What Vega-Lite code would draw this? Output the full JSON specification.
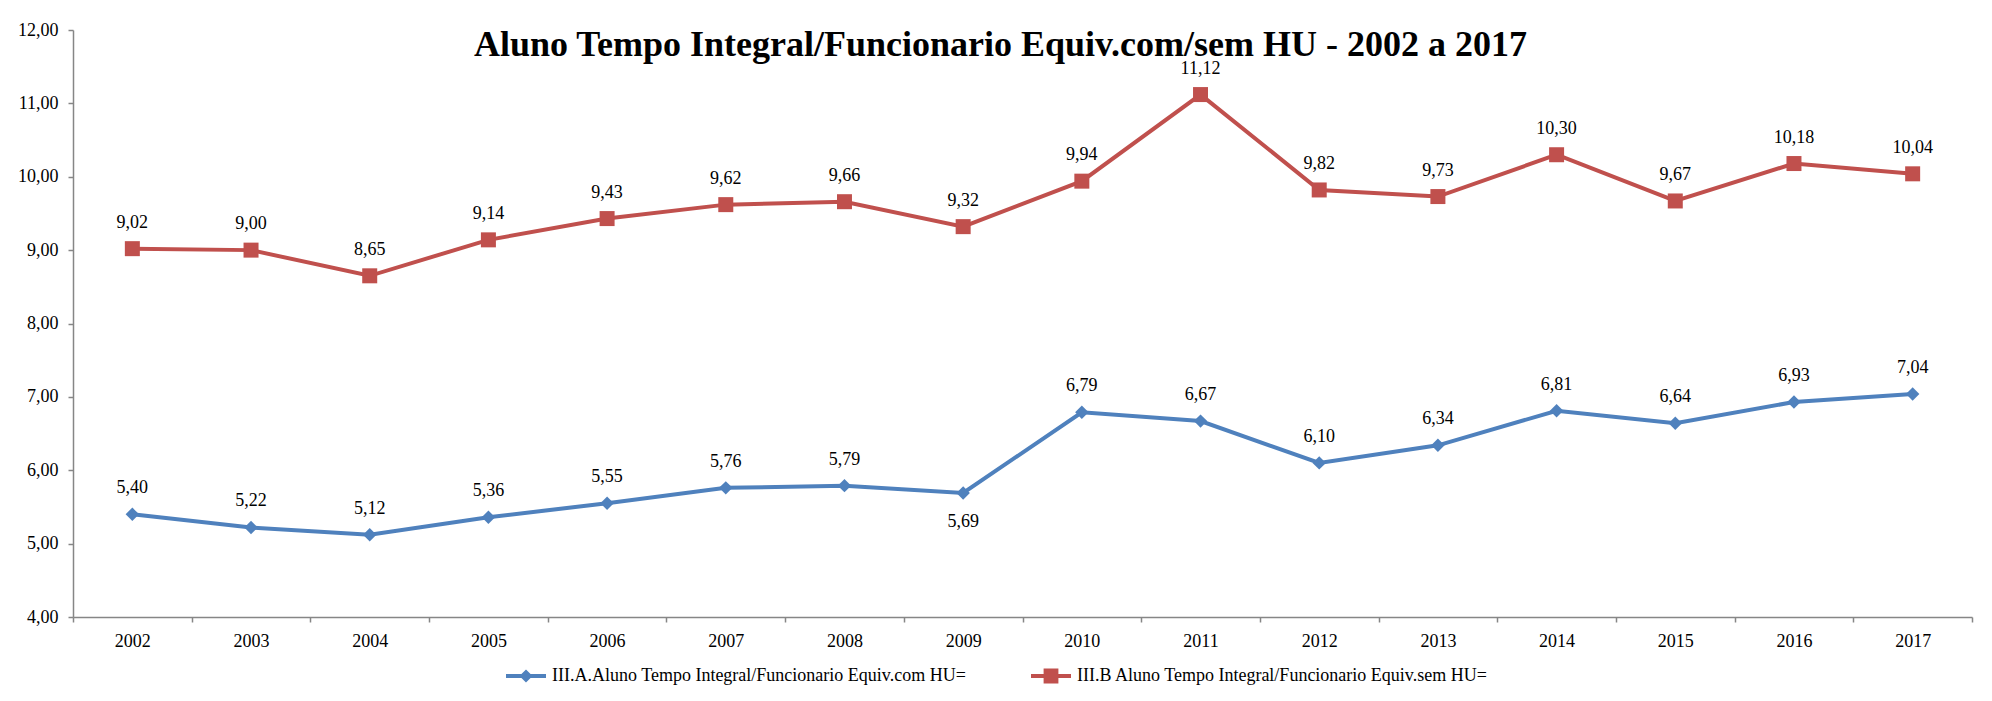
{
  "$schema": "https://vega.github.io/schema/vega-lite/v6.json",
  "width": 1899,
  "height": 587,
  "autosize": {"type": "none"},
  "padding": {"left": 73, "top": 30, "right": 20, "bottom": 84},
  "background": "white",
  "config": {
    "locale": {"number": {"decimal": ",", "thousands": ".", "grouping": [3], "currency": ["R$", ""]}},
    "view": {"stroke": null},
    "font": "Liberation Serif",
    "axis": {
      "domainColor": "#868686",
      "domainWidth": 1.5,
      "tickColor": "#868686",
      "tickWidth": 1.5,
      "tickSize": 5,
      "grid": false,
      "labelFont": "Liberation Serif",
      "labelFontSize": 18,
      "labelColor": "black",
      "title": null
    }
  },
  "title": {
    "text": "Aluno Tempo Integral/Funcionario Equiv.com/sem HU - 2002 a 2017",
    "font": "Liberation Serif",
    "fontSize": 36,
    "fontWeight": "bold",
    "color": "black",
    "anchor": "middle",
    "orient": "top",
    "baseline": "alphabetic",
    "offset": -35,
    "dy": 36,
    "dx": -22
  },
  "data": {
    "values": [
      {"ano": "2002", "A": 5.40, "B": 9.02},
      {"ano": "2003", "A": 5.22, "B": 9.00},
      {"ano": "2004", "A": 5.12, "B": 8.65},
      {"ano": "2005", "A": 5.36, "B": 9.14},
      {"ano": "2006", "A": 5.55, "B": 9.43},
      {"ano": "2007", "A": 5.76, "B": 9.62},
      {"ano": "2008", "A": 5.79, "B": 9.66},
      {"ano": "2009", "A": 5.69, "B": 9.32},
      {"ano": "2010", "A": 6.79, "B": 9.94},
      {"ano": "2011", "A": 6.67, "B": 11.12},
      {"ano": "2012", "A": 6.10, "B": 9.82},
      {"ano": "2013", "A": 6.34, "B": 9.73},
      {"ano": "2014", "A": 6.81, "B": 10.30},
      {"ano": "2015", "A": 6.64, "B": 9.67},
      {"ano": "2016", "A": 6.93, "B": 10.18},
      {"ano": "2017", "A": 7.04, "B": 10.04}
    ]
  },
  "transform": [{"fold": ["A", "B"], "as": ["serie", "valor"]}],
  "encoding": {
    "x": {
      "field": "ano",
      "type": "ordinal",
      "bandPosition": 0.5,
      "scale": {"type": "band", "paddingInner": 0, "paddingOuter": 0},
      "axis": {"tickBand": "extent", "labelAngle": 0, "labelPadding": 10}
    },
    "y": {
      "field": "valor",
      "type": "quantitative",
      "scale": {"domain": [4, 12], "nice": false, "zero": false},
      "axis": {"values": [4, 5, 6, 7, 8, 9, 10, 11, 12], "format": ".2f", "labelPadding": 10}
    }
  },
  "layer": [
    {
      "mark": {"type": "line", "strokeWidth": 4},
      "encoding": {
        "color": {
          "field": "serie",
          "type": "nominal",
          "scale": {"domain": ["A", "B"], "range": ["#4F81BD", "#C0504D"]},
          "legend": {
            "orient": "none",
            "direction": "horizontal",
            "legendX": 433,
            "legendY": 626,
            "title": null,
            "symbolSize": 1600,
            "labelFont": "Liberation Serif",
            "labelFontSize": 18,
            "labelColor": "black",
            "labelOffset": 6,
            "columnPadding": 64,
            "labelLimit": 600,
            "labelExpr": "datum.value == 'A' ? 'III.A.Aluno Tempo Integral/Funcionario Equiv.com HU=' : 'III.B Aluno Tempo Integral/Funcionario Equiv.sem HU='",
            "encode": {
              "symbols": {
                "update": {
                  "shape": {"signal": "datum.value == 'A' ? 'M-1,-0.1H1V0.1H-1Z M0,-0.33L0.33,0L0,0.33L-0.33,0Z' : 'M-1,-0.1H1V0.1H-1Z M-0.37,-0.37H0.37V0.37H-0.37Z'"},
                  "fill": {"signal": "datum.value == 'A' ? '#4F81BD' : '#C0504D'"},
                  "stroke": {"value": "transparent"},
                  "strokeWidth": {"value": 0},
                  "size": {"value": 1600},
                  "opacity": {"value": 1}
                }
              }
            }
          }
        }
      }
    },
    {
      "transform": [{"filter": "datum.serie == 'A'"}],
      "mark": {"type": "point", "shape": "diamond", "filled": true, "opacity": 1, "size": 180, "color": "#4F81BD"}
    },
    {
      "transform": [{"filter": "datum.serie == 'B'"}],
      "mark": {"type": "point", "shape": "square", "filled": true, "opacity": 1, "size": 225, "color": "#C0504D"}
    },
    {
      "transform": [{"filter": "!(datum.serie == 'A' && datum.ano == '2009')"}],
      "mark": {"type": "text", "dy": -26, "fontSize": 18, "font": "Liberation Serif", "color": "black"},
      "encoding": {"text": {"field": "valor", "type": "quantitative", "format": ".2f"}}
    },
    {
      "transform": [{"filter": "datum.serie == 'A' && datum.ano == '2009'"}],
      "mark": {"type": "text", "dy": 29, "fontSize": 18, "font": "Liberation Serif", "color": "black"},
      "encoding": {"text": {"field": "valor", "type": "quantitative", "format": ".2f"}}
    }
  ]
}
